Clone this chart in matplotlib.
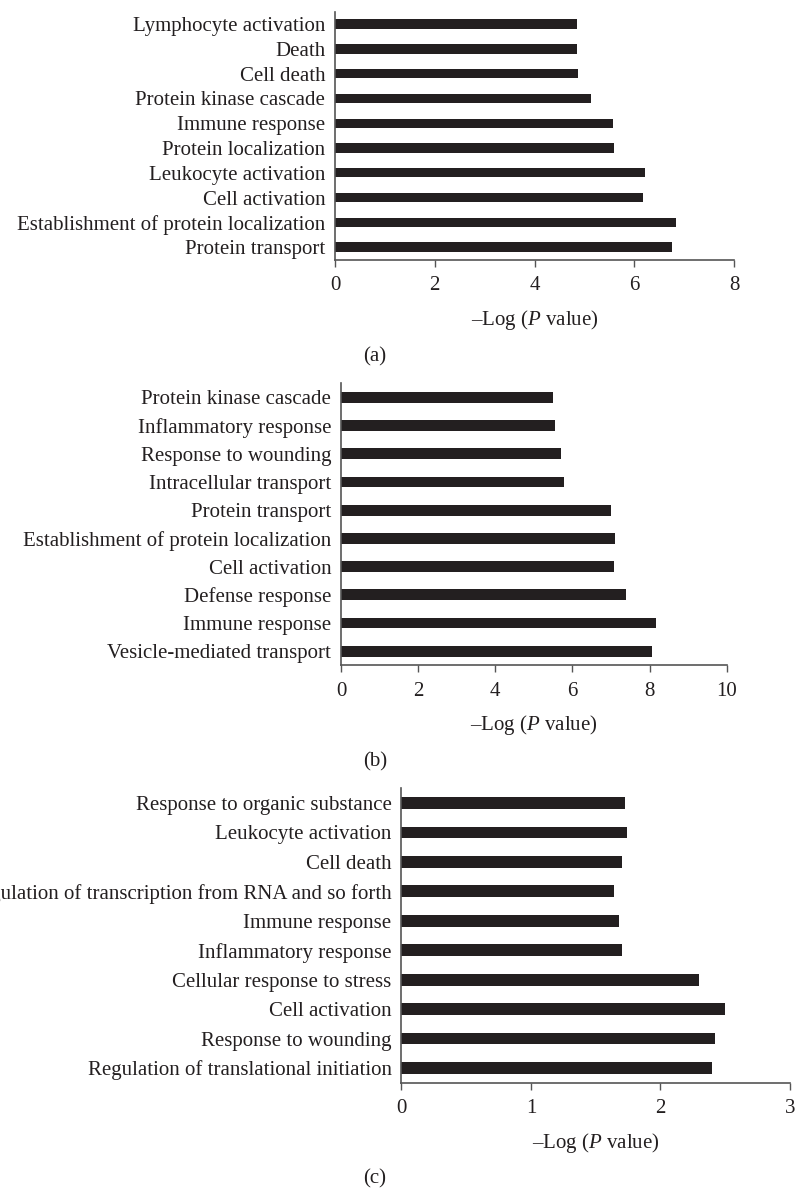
import matplotlib
matplotlib.use('Agg')
import matplotlib.pyplot as plt
import numpy as np

plt.rcParams['font.family'] = ['Liberation Serif', 'DejaVu Serif']
plt.rcParams['mathtext.fontset'] = 'custom'
plt.rcParams['mathtext.rm'] = 'Liberation Serif'
plt.rcParams['mathtext.it'] = 'Liberation Serif:italic'

# panel (a), listed top to bottom
terms_a = ['Lymphocyte activation', 'Death', 'Cell death', 'Protein kinase cascade',
           'Immune response', 'Protein localization', 'Leukocyte activation',
           'Cell activation', 'Establishment of protein localization', 'Protein transport']
values_a = [4.86, 4.86, 4.88, 5.14, 5.58, 5.60, 6.21, 6.17, 6.83, 6.75]
ticks_a = [0, 2, 4, 6, 8]

# panel (b)
terms_b = ['Protein kinase cascade', 'Inflammatory response', 'Response to wounding',
           'Intracellular transport', 'Protein transport',
           'Establishment of protein localization', 'Cell activation',
           'Defense response', 'Immune response', 'Vesicle-mediated transport']
values_b = [5.49, 5.54, 5.71, 5.78, 7.00, 7.10, 7.09, 7.40, 8.16, 8.07]
ticks_b = [0, 2, 4, 6, 8, 10]

# panel (c)
terms_c = ['Response to organic substance', 'Leukocyte activation', 'Cell death',
           'Regulation of transcription from RNA and so forth', 'Immune response',
           'Inflammatory response', 'Cellular response to stress', 'Cell activation',
           'Response to wounding', 'Regulation of translational initiation']
values_c = [1.73, 1.74, 1.70, 1.64, 1.68, 1.70, 2.30, 2.50, 2.42, 2.40]
ticks_c = [0, 1, 2, 3]

BAR = '#231f20'
AXC = '#555555'
TXT = '#231f20'
FS = 15

W, H = 796, 1189
fig = plt.figure(figsize=(W / 100, H / 100), dpi=100)


def px_axes(x0, x1, y0, y1):
    return fig.add_axes([x0 / W, 1 - y1 / H, (x1 - x0) / W, (y1 - y0) / H])


def panel(ax, terms, values, ticks, height):
    y = np.arange(len(terms))
    ax.barh(y, values, height=height, color=BAR)
    ax.set_ylim(len(terms) - 0.5, -0.5)
    ax.set_xlim(ticks[0], ticks[-1])
    ax.set_xticks(ticks)
    ax.set_yticks(y)
    ax.set_yticklabels(terms, fontsize=FS, color=TXT)
    ax.tick_params(axis='y', length=0, pad=7)
    ax.tick_params(axis='x', length=5, width=1, color=AXC, labelsize=FS,
                   labelcolor=TXT, pad=7, direction='out')
    ax.spines['top'].set_visible(False)
    ax.spines['right'].set_visible(False)
    for s in ('left', 'bottom'):
        ax.spines[s].set_color(AXC)
        ax.spines[s].set_linewidth(1.2)
    ax.set_xlabel(r'–Log ($\mathit{P}$ value)', fontsize=FS, color=TXT, labelpad=9)


ax_a = px_axes(335, 734, 11.7, 259.5)
panel(ax_a, terms_a, values_a, ticks_a, 0.38)

ax_b = px_axes(341, 726.7, 383.3, 665.3)
panel(ax_b, terms_b, values_b, ticks_b, 0.39)

ax_c = px_axes(401.3, 790, 788.3, 1082.7)
panel(ax_c, terms_c, values_c, ticks_c, 0.40)

for lab, yy in (('(a)', 356.7), ('(b)', 761.7), ('(c)', 1179)):
    fig.text(375 / W, 1 - yy / H, lab, fontsize=FS, color=TXT,
             ha='center', va='center')

fig.savefig('out.png', dpi=100)
